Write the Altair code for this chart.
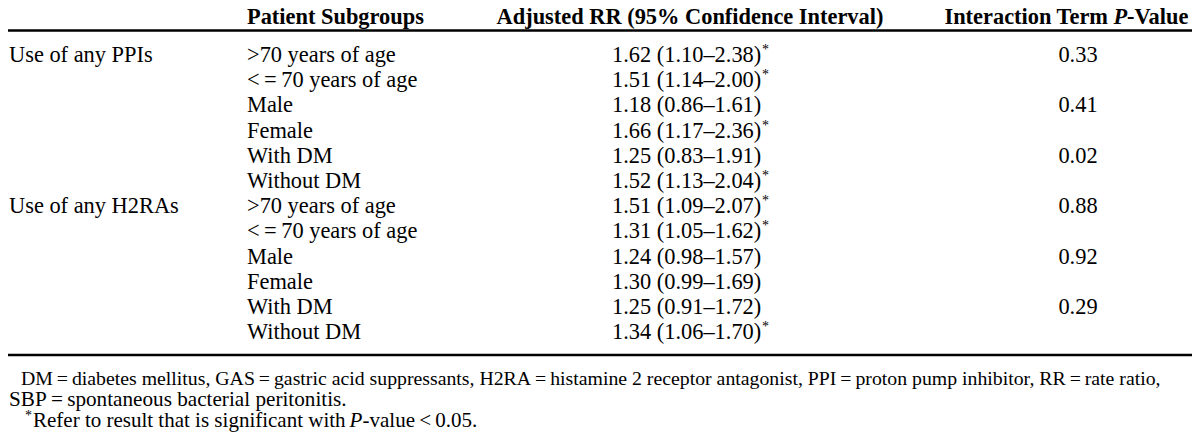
import altair as alt
import pandas as pd

# ---- table content ----
groups = ["Use of any PPIs", "", "", "", "", "",
          "Use of any H2RAs", "", "", "", "", ""]
subgroups = [">70 years of age", "<\u2009=\u200970 years of age", "Male", "Female",
             "With DM", "Without DM",
             ">70 years of age", "<\u2009=\u200970 years of age", "Male", "Female",
             "With DM", "Without DM"]
rr = [1.62, 1.51, 1.18, 1.66, 1.25, 1.52, 1.51, 1.31, 1.24, 1.30, 1.25, 1.34]
ci_low = [1.10, 1.14, 0.86, 1.17, 0.83, 1.13, 1.09, 1.05, 0.98, 0.99, 0.91, 1.06]
ci_high = [2.38, 2.00, 1.61, 2.36, 1.91, 2.04, 2.07, 1.62, 1.57, 1.69, 1.72, 1.70]
significant = [True, True, False, True, False, True, True, True, False, False, False, True]
p_values = ["0.33", "", "0.41", "", "0.02", "", "0.88", "", "0.92", "", "0.29", ""]

header_sub = "Patient Subgroups"
header_rr = "Adjusted RR (95% Confidence Interval)"
header_p = ["Interaction Term", "P", "-Value"]

foot1 = ("DM\u2009=\u2009diabetes mellitus, GAS\u2009=\u2009gastric acid suppressants, "
         "H2RA\u2009=\u2009histamine 2 receptor antagonist, PPI\u2009=\u2009proton pump inhibitor, "
         "RR\u2009=\u2009rate ratio,")
foot2 = "SBP\u2009=\u2009spontaneous bacterial peritonitis."
foot3 = ["Refer to result that is significant with", "P", "-value\u2009<\u20090.05."]

# ---- layout ----
W, H = 1184, 426
FONT = "Liberation Serif"
FS = 22.4
ROW0 = 62
ROWH = 25.2
X1, X2, X3, X4 = 9, 247, 612, 1078
RR_W = 149
HY = 24

xs = alt.Scale(domain=[8, 8 + W], nice=False, zero=False)
ys = alt.Scale(domain=[8, 8 + H], nice=False, zero=False, reverse=True)


def txt(df, **mark):
    return alt.Chart(df).mark_text(font=FONT, color="black", baseline="alphabetic", **mark).encode(
        x=alt.X("x:Q", scale=xs, axis=None),
        y=alt.Y("y:Q", scale=ys, axis=None),
        text="t:N",
    )


n = len(subgroups)
ybase = [ROW0 + ROWH * i for i in range(n)]
rr_text = [f"{r:.2f} ({l:.2f}\u2013{h:.2f})" for r, l, h in zip(rr, ci_low, ci_high)]

col1 = pd.DataFrame({"x": X1, "y": ybase, "t": groups})
col1 = col1[col1.t != ""]
col2 = pd.DataFrame({"x": X2, "y": ybase, "t": subgroups})
col3 = pd.DataFrame({"x": X3, "y": ybase, "t": rr_text})
stars = pd.DataFrame({"x": X3 + RR_W + 1, "y": [y - 8 for y in ybase], "t": "*", "s": significant})
stars = stars[stars.s]
col4 = pd.DataFrame({"x": X4, "y": ybase, "t": p_values})
col4 = col4[col4.t != ""]

layers = [
    txt(col1, align="left", fontSize=FS),
    txt(col2, align="left", fontSize=FS),
    txt(col3, align="left", fontSize=FS),
    txt(stars, align="left", fontSize=14),
    txt(col4, align="center", fontSize=FS),
    # header
    txt(pd.DataFrame({"x": [X2], "y": [HY], "t": [header_sub]}), align="left", fontSize=FS, fontWeight="bold"),
    txt(pd.DataFrame({"x": [690], "y": [HY], "t": [header_rr]}), align="center", fontSize=FS, fontWeight="bold"),
    txt(pd.DataFrame({"x": [1108], "y": [HY], "t": [header_p[0]]}), align="right", fontSize=FS, fontWeight="bold"),
    txt(pd.DataFrame({"x": [1113.5], "y": [HY], "t": [header_p[1]]}), align="left", fontSize=FS, fontWeight="bold", fontStyle="italic"),
    txt(pd.DataFrame({"x": [1127], "y": [HY], "t": [header_p[2]]}), align="left", fontSize=FS, fontWeight="bold"),
    # footnotes
    txt(pd.DataFrame({"x": [21], "y": [385], "t": [foot1]}), align="left", fontSize=19.8),
    txt(pd.DataFrame({"x": [9], "y": [405.5], "t": [foot2]}), align="left", fontSize=21.2),
    txt(pd.DataFrame({"x": [25], "y": [419.5], "t": ["*"]}), align="left", fontSize=14),
    txt(pd.DataFrame({"x": [33], "y": [427], "t": [foot3[0]]}), align="left", fontSize=21),
    txt(pd.DataFrame({"x": [349.5], "y": [427], "t": [foot3[1]]}), align="left", fontSize=21, fontStyle="italic"),
    txt(pd.DataFrame({"x": [362.5], "y": [427], "t": [foot3[2]]}), align="left", fontSize=21),
]

rules_df = pd.DataFrame({"x": [0, 0], "x2": [1200, 1200], "y": [30.5, 355]})
rules = alt.Chart(rules_df).mark_rule(color="black", strokeWidth=2.5).encode(
    x=alt.X("x:Q", scale=xs, axis=None),
    x2="x2:Q",
    y=alt.Y("y:Q", scale=ys, axis=None),
)

chart = alt.layer(rules, *layers).properties(
    width=W, height=H,
    autosize=alt.AutoSizeParams(type="none"),
    padding=0,
    background="white",
).configure_view(stroke=None)

chart.save("out.html", embed_options={"renderer": "svg", "actions": False})
